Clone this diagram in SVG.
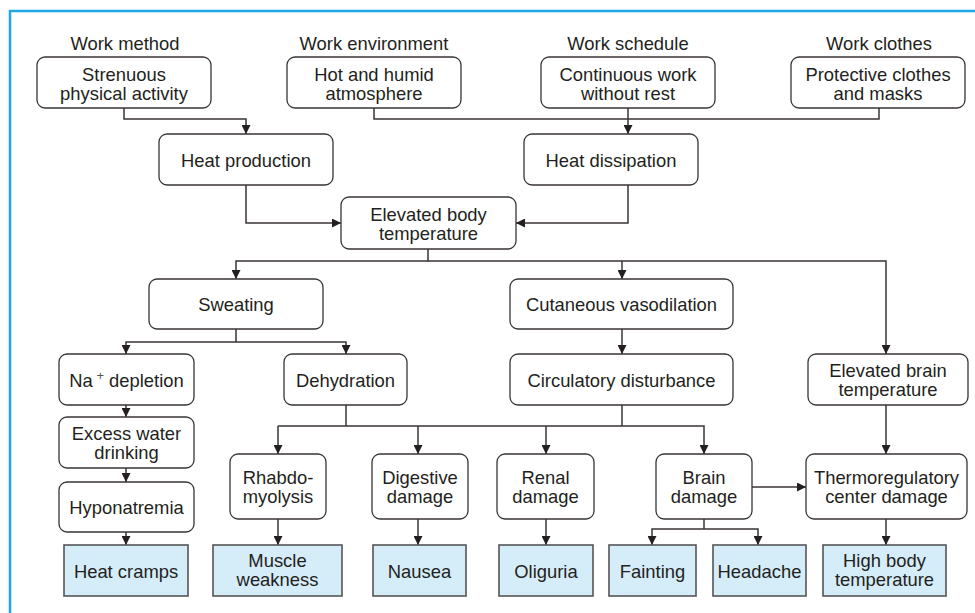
<svg xmlns="http://www.w3.org/2000/svg" width="975" height="613" viewBox="0 0 975 613">
<defs>
<style>
text{font-family:"Liberation Sans",Arial,sans-serif;font-size:18.4px;fill:#231f20;text-anchor:middle}
.n{fill:#fff;stroke:#3a3536;stroke-width:1.3}
.o{fill:#d5ecf9;stroke:#555;stroke-width:1.6}
.c{fill:none;stroke:#3a3536;stroke-width:1.5}
.a{marker-end:url(#ah)}
</style>
<marker id="ah" viewBox="0 0 10 10" refX="10" refY="5" markerWidth="9" markerHeight="9" markerUnits="userSpaceOnUse" orient="auto">
<path d="M0,0 L10,5 L0,10 z" fill="#231f20"/>
</marker>
</defs>
<rect width="975" height="613" fill="#fff"/>
<path d="M10,613 V11 H975" fill="none" stroke="#1fa8e8" stroke-width="2.5"/>

<g id="labels">
<text x="125" y="50">Work method</text>
<text x="374" y="50">Work environment</text>
<text x="628" y="50">Work schedule</text>
<text x="879" y="50">Work clothes</text>
</g>

<g id="connectors">
<path class="c a" d="M124,108 V119 H246 V134"/>
<path class="c" d="M374,108 V119 H628"/>
<path class="c" d="M879,108 V119 H628"/>
<path class="c a" d="M628,108 V134"/>
<path class="c a" d="M246,185 V223 H341"/>
<path class="c a" d="M628,185 V223 H516"/>
<path class="c a" d="M428,249 V261 H236 V279"/>
<path class="c a" d="M428,261 H886 V354"/>
<path class="c a" d="M622,261 V279"/>
<path class="c a" d="M236,329 V342 H126 V354"/>
<path class="c a" d="M236,342 H346 V354"/>
<path class="c a" d="M622,329 V354"/>
<path class="c a" d="M126,405 V417"/>
<path class="c a" d="M126,468 V482"/>
<path class="c a" d="M126,532 V545"/>
<path class="c" d="M346,405 V426"/>
<path class="c" d="M622,405 V426"/>
<path class="c a" d="M278,426 H704 V454"/>
<path class="c a" d="M278,426 V454"/>
<path class="c a" d="M418,426 V454"/>
<path class="c a" d="M546,426 V454"/>
<path class="c a" d="M886,405 V454"/>
<path class="c a" d="M278,519 V545"/>
<path class="c a" d="M418,519 V545"/>
<path class="c a" d="M546,519 V545"/>
<path class="c" d="M704,519 V529"/>
<path class="c a" d="M704,529 H652 V545"/>
<path class="c a" d="M704,529 H758 V545"/>
<path class="c a" d="M752,487 H806"/>
<path class="c a" d="M886,519 V545"/>
</g>

<g id="strenuous"><rect class="n" x="37" y="57" width="174" height="51" rx="8"/><text x="124" y="81">Strenuous</text><text x="124" y="100">physical activity</text></g>
<g id="hot"><rect class="n" x="287" y="57" width="174" height="51" rx="8"/><text x="374" y="81">Hot and humid</text><text x="374" y="100">atmosphere</text></g>
<g id="continuous"><rect class="n" x="541" y="57" width="174" height="51" rx="8"/><text x="628" y="81">Continuous work</text><text x="628" y="100">without rest</text></g>
<g id="protective"><rect class="n" x="791" y="57" width="174" height="51" rx="8"/><text x="878" y="81">Protective clothes</text><text x="878" y="100">and masks</text></g>

<g id="heat-production"><rect class="n" x="159" y="134" width="174" height="51" rx="8"/><text x="246" y="167">Heat production</text></g>
<g id="heat-dissipation"><rect class="n" x="524" y="134" width="174" height="51" rx="8"/><text x="611" y="167">Heat dissipation</text></g>
<g id="elevated-body"><rect class="n" x="341" y="197" width="175" height="52" rx="8"/><text x="428.5" y="221">Elevated body</text><text x="428.5" y="240">temperature</text></g>

<g id="sweating"><rect class="n" x="149" y="279" width="174" height="50" rx="8"/><text x="236" y="311">Sweating</text></g>
<g id="cutaneous"><rect class="n" x="510" y="279" width="223" height="50" rx="8"/><text x="621.5" y="311">Cutaneous vasodilation</text></g>

<g id="na-depletion"><rect class="n" x="59" y="354" width="135" height="51" rx="8"/><text x="126.5" y="387">Na<tspan font-size="13" fill="#555" dy="-7"> +</tspan><tspan dy="7"> depletion</tspan></text></g>
<g id="dehydration"><rect class="n" x="284" y="354" width="123" height="51" rx="8"/><text x="345.5" y="387">Dehydration</text></g>
<g id="circulatory"><rect class="n" x="510" y="354" width="223" height="51" rx="8"/><text x="621.5" y="387">Circulatory disturbance</text></g>
<g id="elevated-brain"><rect class="n" x="808" y="354" width="160" height="51" rx="8"/><text x="888" y="376.5">Elevated brain</text><text x="888" y="395.5">temperature</text></g>

<g id="excess-water"><rect class="n" x="59" y="417" width="135" height="51" rx="8"/><text x="126.5" y="440">Excess water</text><text x="126.5" y="459">drinking</text></g>
<g id="hyponatremia"><rect class="n" x="59" y="482" width="135" height="50" rx="8"/><text x="126.5" y="514">Hyponatremia</text></g>

<g id="rhabdo"><rect class="n" x="230" y="454" width="96" height="65" rx="8"/><text x="278" y="484">Rhabdo-</text><text x="278" y="503">myolysis</text></g>
<g id="digestive"><rect class="n" x="372" y="454" width="96" height="65" rx="8"/><text x="420" y="484">Digestive</text><text x="420" y="503">damage</text></g>
<g id="renal"><rect class="n" x="497" y="454" width="97" height="65" rx="8"/><text x="545.5" y="484">Renal</text><text x="545.5" y="503">damage</text></g>
<g id="brain"><rect class="n" x="656" y="454" width="96" height="65" rx="8"/><text x="704" y="484">Brain</text><text x="704" y="503">damage</text></g>
<g id="thermo"><rect class="n" x="806" y="454" width="161" height="65" rx="8"/><text x="886.5" y="484">Thermoregulatory</text><text x="886.5" y="503">center damage</text></g>

<g id="heat-cramps"><rect class="o" x="64" y="545" width="124" height="51"/><text x="126" y="578">Heat cramps</text></g>
<g id="muscle-weakness"><rect class="o" x="213" y="545" width="129" height="51"/><text x="277.5" y="567">Muscle</text><text x="277.5" y="586">weakness</text></g>
<g id="nausea"><rect class="o" x="373" y="545" width="93" height="51"/><text x="419.5" y="578">Nausea</text></g>
<g id="oliguria"><rect class="o" x="499" y="545" width="94" height="51"/><text x="546" y="578">Oliguria</text></g>
<g id="fainting"><rect class="o" x="609" y="545" width="87" height="51"/><text x="652.5" y="578">Fainting</text></g>
<g id="headache"><rect class="o" x="713" y="545" width="93" height="51"/><text x="759.5" y="578">Headache</text></g>
<g id="high-body"><rect class="o" x="823" y="545" width="123" height="51"/><text x="884.5" y="567">High body</text><text x="884.5" y="586">temperature</text></g>
</svg>
